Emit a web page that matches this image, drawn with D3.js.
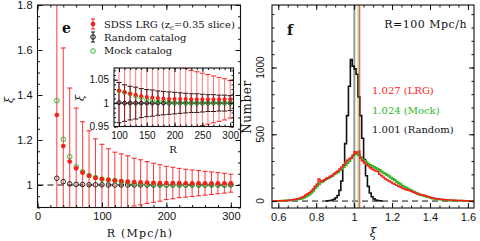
<!DOCTYPE html>
<html>
<head>
<meta charset="utf-8">
<script src="https://cdn.jsdelivr.net/npm/d3@7"></script>
<style>
  body { margin: 0; background: #fff; }
  svg { display: block; }
  .tick text { font-family: "Liberation Sans", sans-serif; fill: #111; }
  .lbl { font-family: "DejaVu Serif", serif; fill: #111; }
</style>
</head>
<body>
<div id="chart"></div>
<script>
const width = 480;
const height = 241;

// ---- panel e data: R (Mpc/h) vs xi ----
const radii = [30, 40, 50, 60, 70, 80, 90, 100, 110, 120, 130, 140, 150, 160, 170,
    180, 190, 200, 210, 220, 230, 240, 250, 260, 270, 280, 290, 300];
const lrgXi = [1.311, 1.173, 1.104, 1.074, 1.055, 1.041, 1.031, 1.027, 1.023, 1.020,
    1.018, 1.015, 1.013, 1.012, 1.011, 1.010, 1.009, 1.009, 1.009, 1.009, 1.008,
    1.008, 1.008, 1.008, 1.008, 1.008, 1.008, 1.008];
const lrgErr = [0.75, 0.436, 0.327, 0.268, 0.226, 0.200, 0.174, 0.154, 0.138, 0.126,
    0.120, 0.115, 0.106, 0.100, 0.093, 0.087, 0.081, 0.074, 0.070, 0.065, 0.062,
    0.059, 0.056, 0.053, 0.050, 0.047, 0.044, 0.040];
const mockXi = [1.375, 1.203, 1.126, 1.081, 1.059, 1.042, 1.033, 1.026, 1.023, 1.020,
    1.015, 1.012, 1.008, 1.006, 1.004, 1.004, 1.002, 1.001, 1.001, 1.001, 1.001,
    1.001, 1.001, 1.001, 1.001, 1.001, 1.001, 1.001];
const randXi = [1.030, 1.015, 1.005, 1.003, 1.002, 1.001, 1.001, 1.001, 1.000, 1.000,
    1.000, 1.000, 1.000, 1.000, 1.000, 1.000, 1.000, 1.000, 1.000, 1.000, 1.000,
    1.000, 1.000, 1.000, 1.000, 1.000, 1.000, 1.000];
const randErr = [0.14, 0.105, 0.085, 0.072, 0.062, 0.054, 0.048, 0.043, 0.039, 0.036,
    0.034, 0.031, 0.029, 0.028, 0.026, 0.025, 0.024, 0.023, 0.022, 0.021, 0.020,
    0.020, 0.019, 0.018, 0.018, 0.017, 0.017, 0.016];

// ---- panel f data: histograms of xi at R=100, bins of 0.01 ----
const binWidth = 0.01;
const lrgStart = 0.57;
const lrgCounts = [1, 1, 2,
    2, 3, 3, 4, 5, 6, 8, 10, 12, 14,
    18, 22, 28, 35, 45, 55, 62, 75, 90, 110,
    125, 165, 150, 145, 160, 170, 175, 185, 190, 205,
    215, 225, 240, 255, 270, 290, 305, 315, 325, 345,
    370, 360, 372, 320, 300, 285, 275, 265, 250, 240,
    232, 225, 222, 200, 190, 178, 165, 158, 150, 142,
    132, 125, 118, 110, 105, 95, 90, 85, 80, 78,
    72, 65, 58, 55, 50, 48, 45, 42, 35, 30,
    26, 22, 20, 18, 16, 14, 12, 11, 10, 8,
    8, 7, 6, 6, 5, 4, 4, 3, 3, 2,
    1, 1, 1];
const mockStart = 0.57;
const mockCounts = [0, 1, 1,
    1, 2, 2, 3, 4, 5, 6, 7, 9, 11,
    13, 16, 20, 25, 32, 40, 50, 62, 78, 95,
    110, 125, 140, 150, 158, 165, 172, 180, 190, 200,
    208, 218, 230, 240, 255, 268, 285, 300, 320, 340,
    350, 355, 345, 330, 310, 300, 290, 280, 270, 262,
    255, 248, 240, 232, 222, 212, 205, 195, 185, 175,
    165, 155, 145, 135, 125, 115, 108, 100, 92, 85,
    78, 70, 62, 56, 50, 45, 40, 36, 32, 28,
    24, 20, 18, 15, 13, 11, 10, 8, 7, 6,
    5, 4, 4, 3, 3, 2, 2, 2, 1, 1,
    1, 0, 0];
const randStart = 0.85;
const randCounts = [1, 2, 4, 8, 14, 25, 42, 80, 150, 270, 430, 640, 860, 1060,
    1010, 990, 950, 780, 640, 470, 310, 190, 110, 60, 32, 16, 8, 4, 2, 1];
const meanLines = [
    { v: 1.001, label: "1.001 (Random)", color: "#111" },
    { v: 1.024, label: "1.024 (Mock)", color: "#2fb82a" },
    { v: 1.027, label: "1.027 (LRG)", color: "#ff1a1a" },
];

// tick labels
const eXTicks = [0, 100, 200, 300];
const eYTicks = [1, 1.2, 1.4, 1.6, 1.8];
const insetXTicks = [100, 150, 200, 250, 300];
const insetYTicks = [0.95, 1, 1.05];
const fXTicks = [0.6, 0.8, 1, 1.2, 1.4, 1.6];
const fYTicks = [0, 500, 1000];

const RED = "#ff1a1a";
const GREEN = "#2fb82a";

const svg = d3.select("#chart").append("svg")
    .attr("width", width).attr("height", height);

// Scales
const xE = d3.scaleLinear().domain([0, 315]).range([37.5, 240.5]);
const yE = d3.scaleLinear().domain([0.9, 1.8]).range([207.5, 5]);
const xI = d3.scaleLinear().domain([91, 306]).range([114, 233.5]);
const yI = d3.scaleLinear().domain([0.95, 1.075]).range([126.5, 68]);
const xF = d3.scaleLinear().domain([0.567, 1.632]).range([272, 474]);
const yF = d3.scaleLinear().domain([-52, 1468]).range([208, 5]);

// frame with inward ticks on all 4 sides
function frame(g, x, y, o) {
    const [x0, x1] = x.range();
    const [y0, y1] = y.range();
    g.append("rect")
        .attr("x", x0).attr("y", y1)
        .attr("width", x1 - x0).attr("height", y0 - y1)
        .attr("fill", "none")
        .attr("stroke", "#111").attr("stroke-width", 1.1);
    const big = o.big || 5, small = o.small || 2.5;
    const sides = [
        [d3.axisBottom, x, `translate(0,${y0})`, "x", true],
        [d3.axisTop, x, `translate(0,${y1})`, "x", false],
        [d3.axisLeft, y, `translate(${x0},0)`, "y", !o.noYLabels],
        [d3.axisRight, y, `translate(${x1},0)`, "y", false],
    ];
    for (const [mk, sc, tr, dir, labels] of sides) {
        const major = dir === "x" ? o.xMajor : o.yMajor;
        const minor = dir === "x" ? o.xMinor : o.yMinor;
        g.append("g").attr("transform", tr)
            .call(mk(sc).tickValues(minor).tickSize(-small).tickFormat(""))
            .call((s) => s.select(".domain").remove())
            .call((s) => s.selectAll("line").attr("stroke", "#111"));
        g.append("g").attr("transform", tr)
            .call(mk(sc).tickValues(major).tickSize(-big)
                .tickPadding(5)
                .tickFormat(labels ? (d) => String(d) : ""))
            .call((s) => s.select(".domain").remove())
            .call((s) => s.selectAll("line").attr("stroke", "#111"))
            .call((s) => s.selectAll("text").attr("font-size", o.fontSize || 11));
    }
}

function minorTicks(lo, hi, step) {
    const out = [];
    for (let v = lo; v <= hi + 1e-9; v += step) out.push(+v.toFixed(4));
    return out;
}

// ---------------- Panel e ----------------
const pe = svg.append("g");
pe.append("clipPath").attr("id", "clipE").append("rect")
    .attr("x", 37.5).attr("y", 5).attr("width", 203).attr("height", 202.5);

// dashed line at xi = 1
pe.append("line")
    .attr("x1", xE(0)).attr("x2", xE(315))
    .attr("y1", yE(1)).attr("y2", yE(1))
    .attr("stroke", "#111").attr("stroke-dasharray", "6,4");

const pts = radii.map((r, i) => ({
    r, lrg: lrgXi[i], le: lrgErr[i], mock: mockXi[i], rnd: randXi[i], re: randErr[i],
}));

function errorBars(g, data, x, y, key, err, color, cap, barOpacity) {
    g.selectAll(null).data(data).join("line")
        .attr("x1", (d) => x(d.r)).attr("x2", (d) => x(d.r))
        .attr("y1", (d) => y(d[key] - d[err])).attr("y2", (d) => y(d[key] + d[err]))
        .attr("stroke", color).attr("stroke-width", 1)
        .attr("stroke-opacity", barOpacity || 1);
    for (const s of [-1, 1]) {
        g.selectAll(null).data(data).join("line")
            .attr("x1", (d) => x(d.r) - cap).attr("x2", (d) => x(d.r) + cap)
            .attr("y1", (d) => y(d[key] + s * d[err])).attr("y2", (d) => y(d[key] + s * d[err]))
            .attr("stroke", color).attr("stroke-width", 1);
    }
}

function markers(g, data, x, y, rad) {
    g.selectAll(null).data(data).join("circle")
        .attr("cx", (d) => x(d.r)).attr("cy", (d) => y(d.rnd)).attr("r", rad)
        .attr("fill", "none").attr("stroke", "#111").attr("stroke-width", 0.9);
    g.selectAll(null).data(data).join("circle")
        .attr("cx", (d) => x(d.r)).attr("cy", (d) => y(d.mock)).attr("r", rad)
        .attr("fill", "none").attr("stroke", GREEN).attr("stroke-width", 1);
    g.selectAll(null).data(data).join("circle")
        .attr("cx", (d) => x(d.r)).attr("cy", (d) => y(d.lrg)).attr("r", rad)
        .attr("fill", RED);
}

const plotE = pe.append("g").attr("clip-path", "url(#clipE)");
errorBars(plotE, pts, xE, yE, "lrg", "le", RED, 2.5, 0.85);
markers(plotE, pts, xE, yE, 2.3);

frame(pe, xE, yE, {
    xMajor: eXTicks, xMinor: minorTicks(0, 300, 20),
    yMajor: eYTicks, yMinor: minorTicks(0.9, 1.8, 0.05),
});

// legend
const lg = pe.append("g");
const legendRows = [
    { y: 24, kind: "lrg" },
    { y: 37, kind: "rnd" },
    { y: 51, kind: "mock" },
];
for (const row of legendRows) {
    const mx = 93;
    if (row.kind !== "mock") {
        const c = row.kind === "lrg" ? RED : "#111";
        const h = 5;
        lg.append("line").attr("x1", mx).attr("x2", mx).attr("y1", row.y - h).attr("y2", row.y + h)
            .attr("stroke", c);
        for (const s of [-1, 1]) {
            lg.append("line").attr("x1", mx - 2).attr("x2", mx + 2)
                .attr("y1", row.y + s * h).attr("y2", row.y + s * h).attr("stroke", c);
        }
    }
    if (row.kind === "lrg") {
        lg.append("circle").attr("cx", mx).attr("cy", row.y).attr("r", 2.3).attr("fill", RED);
    } else {
        lg.append("circle").attr("cx", mx).attr("cy", row.y).attr("r", 2.3)
            .attr("fill", "none").attr("stroke", row.kind === "rnd" ? "#111" : GREEN);
    }
}
const t0 = lg.append("text").attr("class", "lbl").attr("x", 104).attr("y", 27.5).attr("font-size", 10);
t0.append("tspan").text("SDSS LRG (z");
t0.append("tspan").attr("font-size", 7).attr("dy", 2).text("c");
t0.append("tspan").attr("dy", -2).text("=0.35 slice)");
lg.append("text").attr("class", "lbl").attr("x", 104).attr("y", 40.5).attr("font-size", 10).text("Random catalog");
lg.append("text").attr("class", "lbl").attr("x", 104).attr("y", 54).attr("font-size", 10).text("Mock catalog");

pe.append("text").attr("class", "lbl").attr("x", 62).attr("y", 33)
    .attr("font-size", 14).attr("font-weight", "bold").text("e");

// axis labels
pe.append("text").attr("class", "lbl").attr("x", 140).attr("y", 237)
    .attr("text-anchor", "middle").attr("font-size", 11).attr("letter-spacing", 1.2)
    .text("R (Mpc/h)");
pe.append("text").attr("class", "lbl")
    .attr("transform", "translate(13,100) rotate(-90)")
    .attr("text-anchor", "middle").attr("font-size", 11).attr("font-style", "italic").text("ξ");

// ---------------- Inset ----------------
const pi = svg.append("g");
pi.append("rect").attr("x", 114).attr("y", 68).attr("width", 119.5).attr("height", 58.5).attr("fill", "#fff");
pi.append("clipPath").attr("id", "clipI").append("rect")
    .attr("x", 114).attr("y", 68).attr("width", 119.5).attr("height", 58.5);
const insetPts = pts.filter((d) => d.r >= 100);
const plotI = pi.append("g").attr("clip-path", "url(#clipI)");
plotI.append("line").attr("x1", 114).attr("x2", 233.5).attr("y1", yI(1)).attr("y2", yI(1))
    .attr("stroke", "#111").attr("stroke-width", 1);
errorBars(plotI, insetPts, xI, yI, "rnd", "re", "#111", 2.5);
errorBars(plotI, insetPts, xI, yI, "lrg", "le", RED, 2.5, 0.6);
markers(plotI, insetPts, xI, yI, 2);

frame(pi, xI, yI, {
    xMajor: insetXTicks, xMinor: minorTicks(100, 300, 10),
    yMajor: insetYTicks, yMinor: minorTicks(0.95, 1.07, 0.01),
    big: 4, small: 2, fontSize: 10,
});
pi.append("text").attr("class", "lbl").attr("x", 173).attr("y", 153)
    .attr("text-anchor", "middle").attr("font-size", 10).text("R");
pi.append("text").attr("class", "lbl")
    .attr("transform", "translate(84,98) rotate(-90)")
    .attr("text-anchor", "middle").attr("font-size", 11).attr("font-style", "italic").text("ξ");

// ---------------- Panel f ----------------
const pf = svg.append("g");
pf.append("clipPath").attr("id", "clipF").append("rect")
    .attr("x", 272).attr("y", 5).attr("width", 202).attr("height", 203);
const plotF = pf.append("g").attr("clip-path", "url(#clipF)");

plotF.append("line")
    .attr("x1", 272).attr("x2", 474).attr("y1", yF(0)).attr("y2", yF(0))
    .attr("stroke", "#111").attr("stroke-dasharray", "6,4");

// mean marker for the random catalog
plotF.append("line").attr("x1", xF(1.001)).attr("x2", xF(1.001)).attr("y1", 5).attr("y2", 208)
    .attr("stroke", "#9a9a9a").attr("stroke-width", 2);

function stepPts(start, counts) {
    const p = counts.map((c, i) => [start + i * binWidth, c]);
    p.push([start + counts.length * binWidth, counts[counts.length - 1]]);
    return p;
}
const stepLine = d3.line().x((d) => xF(d[0])).y((d) => yF(d[1])).curve(d3.curveStepAfter);

plotF.append("path").attr("d", stepLine(stepPts(randStart, randCounts)))
    .attr("fill", "none").attr("stroke", "#111").attr("stroke-width", 1.6);
plotF.append("path").attr("d", stepLine(stepPts(mockStart, mockCounts)))
    .attr("fill", "none").attr("stroke", GREEN).attr("stroke-width", 2);
plotF.append("path").attr("d", stepLine(stepPts(lrgStart, lrgCounts)))
    .attr("fill", "none").attr("stroke", RED).attr("stroke-width", 1.5);

// mean markers for mock and LRG
plotF.append("line").attr("x1", xF(1.024) - 0.5).attr("x2", xF(1.024) - 0.5).attr("y1", 5).attr("y2", 208)
    .attr("stroke", GREEN).attr("stroke-width", 0.7);
plotF.append("line").attr("x1", xF(1.027) + 0.5).attr("x2", xF(1.027) + 0.5).attr("y1", 5).attr("y2", 208)
    .attr("stroke", RED).attr("stroke-width", 0.9);

frame(pf, xF, yF, {
    xMajor: fXTicks, xMinor: minorTicks(0.6, 1.6, 0.05),
    yMajor: fYTicks, yMinor: minorTicks(0, 1400, 100),
    noYLabels: true,
});
// rotated y tick labels
pf.selectAll(null).data(fYTicks).join("text")
    .attr("transform", (d) => `translate(264,${yF(d)}) rotate(-90)`)
    .attr("text-anchor", "middle").attr("font-size", 10)
    .attr("font-family", "Liberation Sans, sans-serif").attr("fill", "#111")
    .text((d) => d);

pf.append("text").attr("class", "lbl").attr("x", 287).attr("y", 35)
    .attr("font-size", 14).attr("font-weight", "bold").text("f");
pf.append("text").attr("class", "lbl").attr("x", 467).attr("y", 28)
    .attr("text-anchor", "end").attr("font-size", 11).attr("letter-spacing", 0.5)
    .text("R=100 Mpc/h");

const meanY = { "1.027 (LRG)": 94, "1.024 (Mock)": 113.5, "1.001 (Random)": 133 };
for (const m of meanLines) {
    pf.append("text").attr("x", 372).attr("y", meanY[m.label])
        .attr("font-family", "DejaVu Serif, serif")
        .attr("font-size", 10).attr("fill", m.color).text(m.label);
}

pf.append("text").attr("class", "lbl").attr("x", 373).attr("y", 237)
    .attr("text-anchor", "middle").attr("font-size", 12).attr("font-style", "italic").text("ξ");
pf.append("text").attr("class", "lbl")
    .attr("transform", "translate(251,107) rotate(-90)")
    .attr("text-anchor", "middle").attr("font-size", 12).attr("letter-spacing", 0.6).text("Number");
</script>
</body>
</html>
